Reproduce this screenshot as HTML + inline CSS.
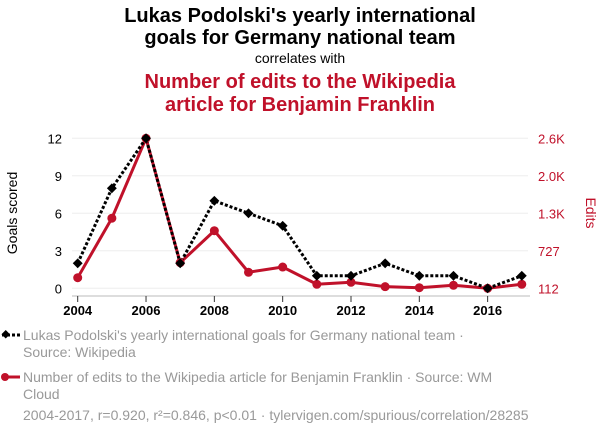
<!DOCTYPE html>
<html><head><meta charset="utf-8">
<style>
body{margin:0;background:#fff;width:600px;height:436px;overflow:hidden;font-family:"Liberation Sans",sans-serif;}
</style></head>
<body>
<svg width="600" height="436" xmlns="http://www.w3.org/2000/svg" font-family="Liberation Sans, sans-serif">
<text x="300" y="22" text-anchor="middle" font-size="20" font-weight="bold" fill="#000">Lukas Podolski's yearly international</text>
<text x="300" y="44" text-anchor="middle" font-size="20" font-weight="bold" fill="#000">goals for Germany national team</text>
<text x="300" y="63" text-anchor="middle" font-size="14" fill="#000">correlates with</text>
<text x="300" y="88" text-anchor="middle" font-size="20" font-weight="bold" fill="#c0112a">Number of edits to the Wikipedia</text>
<text x="300" y="111" text-anchor="middle" font-size="20" font-weight="bold" fill="#c0112a">article for Benjamin Franklin</text>
<g id="grid"></g>
<g id="axes"></g>
<g id="series"></g>
<text transform="translate(17,213) rotate(-90)" text-anchor="middle" font-size="14" fill="#000">Goals scored</text>
<text transform="translate(586,213) rotate(90)" text-anchor="middle" font-size="14" fill="#c0112a">Edits</text>
<g>
<line x1="2" y1="335" x2="22" y2="335" stroke="#000" stroke-width="3" stroke-dasharray="3,2"/>
<rect x="2" y="331" width="6" height="6" transform="rotate(45 5 335)" fill="#000"/>
<text x="23" y="340" font-size="14" fill="#999">Lukas Podolski's yearly international goals for Germany national team ·</text>
<text x="23" y="357" font-size="14" fill="#999">Source: Wikipedia</text>
</g>
<g>
<line x1="2" y1="377" x2="20" y2="377" stroke="#c0112a" stroke-width="3"/>
<circle cx="5" cy="377" r="4" fill="#c0112a"/>
<text x="23" y="382" font-size="14" fill="#999">Number of edits to the Wikipedia article for Benjamin Franklin · Source: WM</text>
<text x="23" y="399" font-size="14" fill="#999">Cloud</text>
</g>
<text x="23" y="420" font-size="14" fill="#999">2004-2017, r=0.920, r²=0.846, p&lt;0.01 · tylervigen.com/spurious/correlation/28285</text>
</svg>
<script>
const years=[2004,2005,2006,2007,2008,2009,2010,2011,2012,2013,2014,2015,2016,2017];
const goals=[2,8,12,2,7,6,5,1,1,2,1,1,0,1];
const edits=[288,1274,2600,537,1067,378,465,179,212,139,122,162,112,179];
const leftTicks=[0,3,6,9,12];
const rightTickVals=[112,727,1349,1975,2600];
const rightTickLabels=["112","727","1.3K","2.0K","2.6K"];
const xTicks=[2004,2006,2008,2010,2012,2014,2016];
const NS="http://www.w3.org/2000/svg";
const X=y=>77.7+(y-2004)*(521.8-77.7)/13;
const YL=v=>288.3-v*(150/12);
const YR=v=>288.3-(v-112)*(150/(2600-112));
function mk(t,a,p){const e=document.createElementNS(NS,t);for(const k in a)e.setAttribute(k,a[k]);p.appendChild(e);return e;}
const grid=document.getElementById('grid'),axes=document.getElementById('axes'),ser=document.getElementById('series');
leftTicks.forEach(v=>{
 const l=mk('line',{x1:72,x2:528,y1:YL(v),y2:YL(v),stroke:'#eee','stroke-width':1},grid);
 
 
 const t=mk('text',{x:62,y:YL(v)+5,'text-anchor':'end','font-size':13,fill:'#000'},axes);
 t.textContent=v;
 
 
});
rightTickVals.forEach((v,i)=>{
 const t=mk('text',{x:538,y:YR(v)+5,'font-size':13,fill:'#c0112a'},axes);
 t.textContent=rightTickLabels[i];
 
 
});
const ax=mk('line',{x1:72,x2:530,y1:296,y2:296,stroke:'#bbb','stroke-width':1},axes);


xTicks.forEach(y=>{
 mk('line',{x1:X(y),x2:X(y),y1:296,y2:302,stroke:'#333','stroke-width':1},axes);
 const t=mk('text',{x:X(y),y:315,'text-anchor':'middle','font-size':13,'font-weight':'bold',fill:'#000'},axes);
 t.textContent=y;
 
 
});
const rl=mk('polyline',{points:years.map((y,i)=>X(y)+','+YR(edits[i])).join(' '),fill:'none',stroke:'#c0112a','stroke-width':3,'stroke-linejoin':'round'},ser);


const bl=mk('polyline',{points:years.map((y,i)=>X(y)+','+YL(goals[i])).join(' '),fill:'none',stroke:'#000','stroke-width':3,'stroke-dasharray':'3,2'},ser);


years.forEach((y,i)=>{
 const c=mk('circle',{cx:X(y),cy:YR(edits[i]),r:4.5,fill:'#c0112a'},ser);
 
 
});
years.forEach((y,i)=>{
 const cx=X(y),cy=YL(goals[i]);
 const r=mk('rect',{x:cx-3.5,y:cy-3.5,width:7,height:7,fill:'#000',transform:`rotate(45 ${cx} ${cy})`},ser);
 
 
});
</script>
</body></html>
